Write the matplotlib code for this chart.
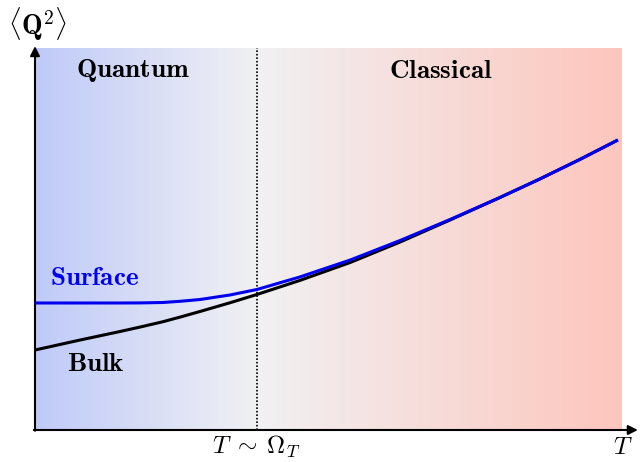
import numpy as np
import matplotlib
matplotlib.use("Agg")
import matplotlib.pyplot as plt
from matplotlib.colors import LinearSegmentedColormap

plt.rcParams['mathtext.fontset'] = 'cm'
plt.rcParams['font.family'] = 'serif'
plt.rcParams['font.serif'] = ['DejaVu Serif']

# Data (arbitrary units)
T = [0.0, 0.77, 1.45, 1.79, 2.18, 2.47, 2.81, 3.32, 3.78, 4.51, 5.37, 6.22, 7.07, 7.92,
     8.60, 9.28, 9.93]
surface = [3.325, 3.325, 3.325, 3.327, 3.338, 3.369, 3.416, 3.534, 3.678, 4.005, 4.450,
           4.961, 5.510, 6.086, 6.571, 7.081, 7.592]
bulk = [2.094, 2.356, 2.579, 2.695, 2.835, 2.955, 3.102, 3.330, 3.547, 3.914, 4.385,
        4.921, 5.497, 6.086, 6.571, 7.081, 7.592]
T_cross = 3.78
x_max, y_max = 10.0, 10.0

fig = plt.figure(figsize=(6.42, 4.62), dpi=100)
ax = fig.add_axes([35/642, 32/462, 587/642, 382/462])
ax.set_xlim(0, x_max)
ax.set_ylim(0, y_max)

# gradient background
cmap = LinearSegmentedColormap.from_list(
    'qc', [(0.0, '#bfcaf9'), (0.378, '#f1f1f3'), (1.0, '#fdc6bd')])
grad = np.linspace(0, 1, 512).reshape(1, -1)
ax.imshow(grad, extent=[0, x_max, 0, y_max], aspect='auto', cmap=cmap,
          origin='lower', zorder=0)

ax.plot(T, bulk, color='black', lw=2.2, zorder=3, solid_capstyle='butt',
        solid_joinstyle='round')
ax.plot(T, surface, color='#0000ee', lw=2.2, zorder=4, solid_capstyle='butt',
        solid_joinstyle='round')
ax.axvline(T_cross, color='black', ls=(0, (1, 1.1)), lw=1.2, zorder=2)

for s in ax.spines.values():
    s.set_visible(False)
ax.set_xticks([])
ax.set_yticks([])

# axis arrows
ax.annotate('', xy=(1.027, 0), xytext=(-0.002, 0), xycoords='axes fraction',
            arrowprops=dict(arrowstyle='-|>', color='black', lw=1.5,
                            mutation_scale=14, shrinkA=0, shrinkB=0),
            annotation_clip=False)
ax.annotate('', xy=(0, 1.005), xytext=(0, -0.002), xycoords='axes fraction',
            arrowprops=dict(arrowstyle='-|>', color='black', lw=1.5,
                            mutation_scale=14, shrinkA=0, shrinkB=0),
            annotation_clip=False)

ax.text(0.167, 0.94, r'$\mathbf{Quantum}$', transform=ax.transAxes,
        ha='center', va='center', fontsize=19.5)
ax.text(0.692, 0.94, r'$\mathbf{Classical}$', transform=ax.transAxes,
        ha='center', va='center', fontsize=19.5)
ax.text(0.025, 0.40, r'$\mathbf{Surface}$', transform=ax.transAxes,
        ha='left', va='center', fontsize=19.5, color='#0000ee')
ax.text(0.054, 0.175, r'$\mathbf{Bulk}$', transform=ax.transAxes,
        ha='left', va='center', fontsize=19.5, color='black')

fig.text(38/642, 1 - 24/462, r'$\langle \mathbf{Q}^2 \rangle$', ha='center',
         va='center', fontsize=20)
fig.text(256/642, 1 - 447/462, r'$T\;\sim\;\Omega_T$', ha='center', va='center',
         fontsize=18)
fig.text(623/642, 1 - 447/462, r'$T$', ha='center', va='center', fontsize=18)

fig.savefig('out.png', dpi=100)
